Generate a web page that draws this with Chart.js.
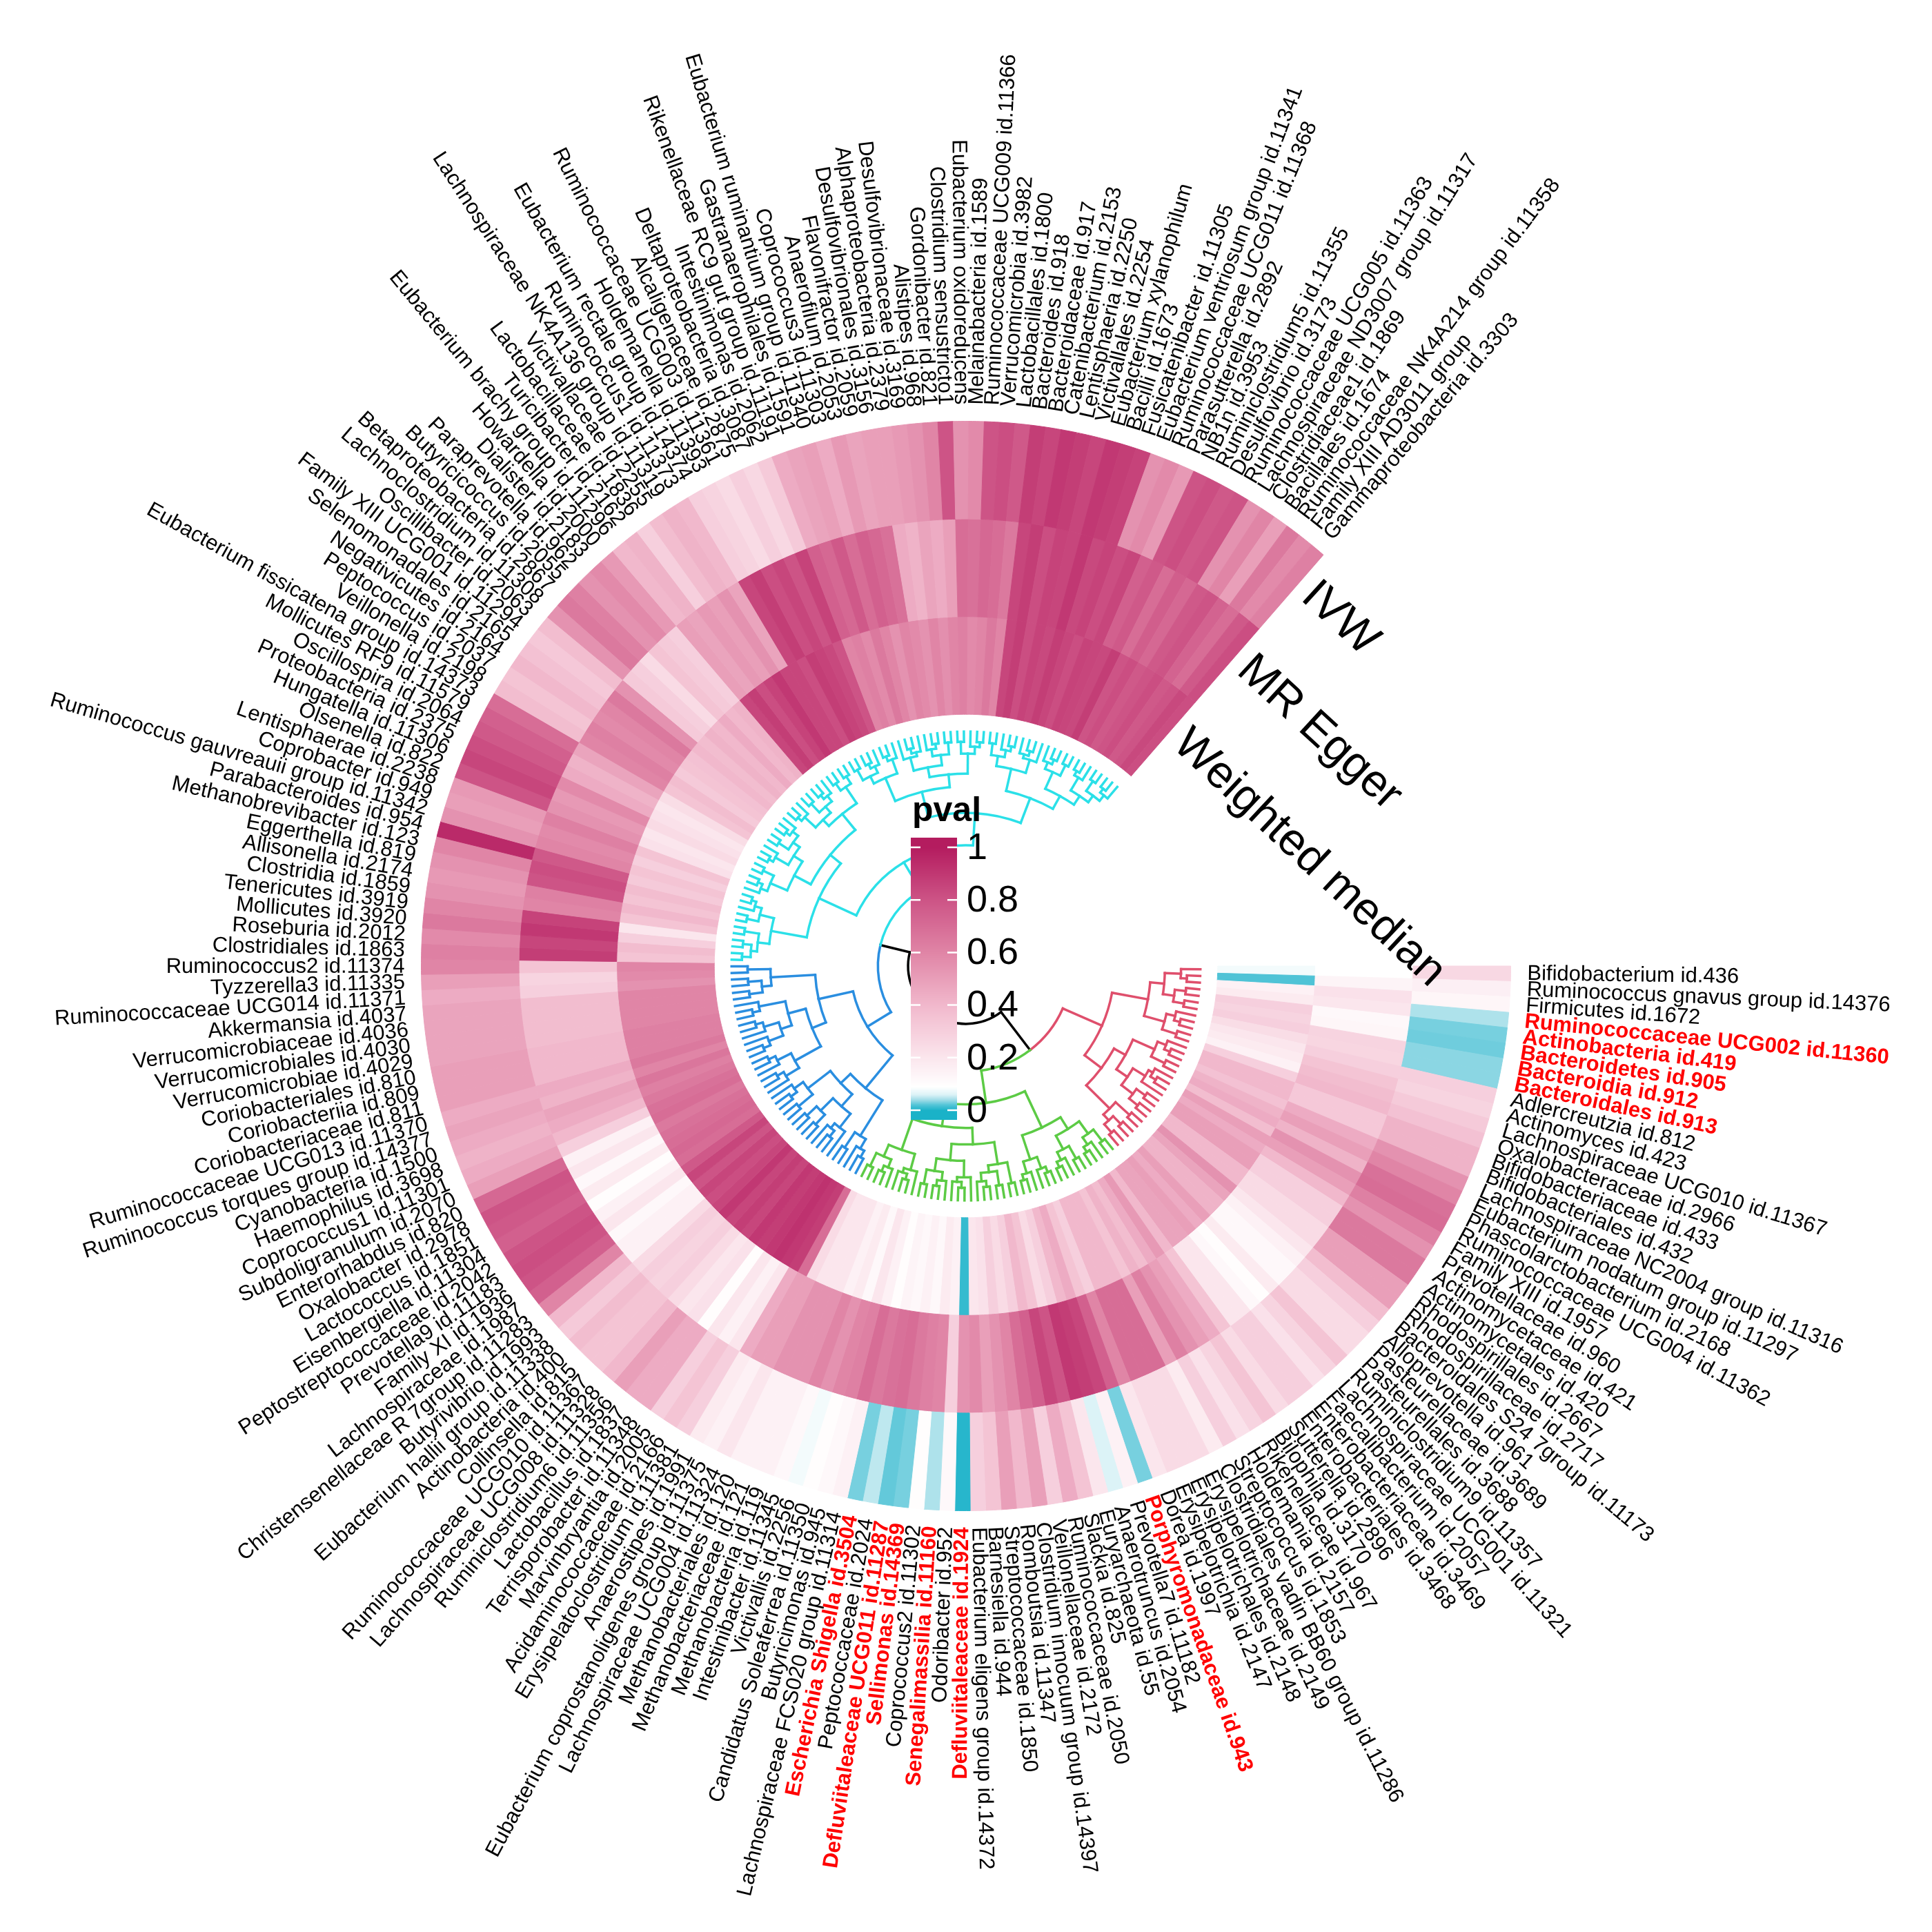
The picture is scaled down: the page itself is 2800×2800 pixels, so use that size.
<!DOCTYPE html>
<html>
<head>
<meta charset="utf-8">
<script src="https://cdn.jsdelivr.net/npm/chart.js@4.4.1/dist/chart.umd.min.js"></script>
<style>
  html, body { margin: 0; padding: 0; background: #fff; }
  canvas { display: block; }
</style>
</head>
<body>
<canvas id="fanChart" width="2800" height="2800"></canvas>
<script>
// taxa in clockwise order, starting at 3 o'clock
const taxa = [
  'Bifidobacterium id.436', 'Ruminococcus gnavus group id.14376', 'Firmicutes id.1672',
  'Ruminococcaceae UCG002 id.11360', 'Actinobacteria id.419', 'Bacteroidetes id.905',
  'Bacteroidia id.912', 'Bacteroidales id.913', 'Adlercreutzia id.812', 'Actinomyces id.423',
  'Lachnospiraceae UCG010 id.11367', 'Oxalobacteraceae id.2966', 'Bifidobacteriaceae id.433',
  'Bifidobacteriales id.432', 'Lachnospiraceae NC2004 group id.11316', 'Eubacterium nodatum group id.11297',
  'Phascolarctobacterium id.2168', 'Ruminococcaceae UCG004 id.11362', 'Family XIII id.1957',
  'Prevotellaceae id.960', 'Actinomycetaceae id.421', 'Actinomycetales id.420',
  'Rhodospirillales id.2667', 'Rhodospirillaceae id.2717', 'Bacteroidales S24 7group id.11173',
  'Alloprevotella id.961', 'Pasteurellaceae id.3689', 'Pasteurellales id.3688',
  'Ruminiclostridium9 id.11357', 'Lachnospiraceae UCG001 id.11321', 'Faecalibacterium id.2057',
  'Enterobacteriaceae id.3469', 'Enterobacteriales id.3468', 'Sutterella id.2896',
  'Bilophila id.3170', 'Rikenellaceae id.967', 'Holdemania id.2157', 'Streptococcus id.1853',
  'Clostridiales vadin BB60 group id.11286', 'Erysipelotrichaceae id.2149', 'Erysipelotrichales id.2148',
  'Erysipelotrichia id.2147', 'Dorea id.1997', 'Porphyromonadaceae id.943', 'Prevotella7 id.11182',
  'Anaerotruncus id.2054', 'Euryarchaeota id.55', 'Slackia id.825', 'Ruminococcaceae id.2050',
  'Veillonellaceae id.2172', 'Clostridium innocuum group id.14397', 'Romboutsia id.11347',
  'Streptococcaceae id.1850', 'Barnesiella id.944', 'Eubacterium eligens group id.14372',
  'Defluviitaleaceae id.1924', 'Odoribacter id.952', 'Senegalimassilia id.11160',
  'Coprococcus2 id.11302', 'Sellimonas id.14369', 'Defluviitaleaceae UCG011 id.11287',
  'Peptococcaceae id.2024', 'Escherichia Shigella id.3504', 'Lachnospiraceae FCS020 group id.11314',
  'Butyricimonas id.945', 'Candidatus Soleaferrea id.11350', 'Victivallis id.2256',
  'Intestinibacter id.11345', 'Methanobacteria id.119', 'Methanobacteriaceae id.121',
  'Methanobacteriales id.120', 'Lachnospiraceae UCG004 id.11324',
  'Eubacterium coprostanoligenes group id.11375', 'Anaerostipes id.1991',
  'Erysipelatoclostridium id.11381', 'Acidaminococcaceae id.2166', 'Marvinbryantia id.2005',
  'Terrisporobacter id.11348', 'Lactobacillus id.1837', 'Ruminiclostridium6 id.11356',
  'Lachnospiraceae UCG008 id.11328', 'Ruminococcaceae UCG010 id.11367', 'Collinsella id.815',
  'Actinobacteria id.400', 'Eubacterium hallii group id.11338', 'Butyrivibrio id.1993',
  'Christensenellaceae R 7group id.11283', 'Lachnospiraceae id.1987', 'Family XI id.1936',
  'Prevotella9 id.11183', 'Peptostreptococcaceae id.2042', 'Eisenbergiella id.11304',
  'Lactococcus id.1851', 'Oxalobacter id.2978', 'Enterorhabdus id.820', 'Subdoligranulum id.2070',
  'Coprococcus1 id.11301', 'Haemophilus id.3698', 'Cyanobacteria id.1500',
  'Ruminococcus torques group id.14377', 'Ruminococcaceae UCG013 id.11370', 'Coriobacteriaceae id.811',
  'Coriobacteriia id.809', 'Coriobacteriales id.810', 'Verrucomicrobiae id.4029',
  'Verrucomicrobiales id.4030', 'Verrucomicrobiaceae id.4036', 'Akkermansia id.4037',
  'Ruminococcaceae UCG014 id.11371', 'Tyzzerella3 id.11335', 'Ruminococcus2 id.11374',
  'Clostridiales id.1863', 'Roseburia id.2012', 'Mollicutes id.3920', 'Tenericutes id.3919',
  'Clostridia id.1859', 'Allisonella id.2174', 'Eggerthella id.819', 'Methanobrevibacter id.123',
  'Parabacteroides id.954', 'Ruminococcus gauvreauii group id.11342', 'Coprobacter id.949',
  'Lentisphaerae id.2238', 'Olsenella id.822', 'Hungatella id.11306', 'Proteobacteria id.2375',
  'Oscillospira id.2064', 'Mollicutes RF9 id.11579', 'Eubacterium fissicatena group id.14373',
  'Veillonella id.2198', 'Peptococcus id.2037', 'Negativicutes id.2164', 'Selenomonadales id.2165',
  'Family XIII UCG001 id.11294', 'Oscillibacter id.2063', 'Lachnoclostridium id.11308',
  'Betaproteobacteria id.2867', 'Butyricicoccus id.2055', 'Paraprevotella id.962',
  'Dialister id.2183', 'Howardella id.2000', 'Eubacterium brachy group id.11296',
  'Turicibacter id.2162', 'Lactobacillaceae id.1836', 'Victivallaceae id.2255',
  'Lachnospiraceae NK4A136 group id.11319', 'Ruminococcus1 id.11373', 'Eubacterium rectale group id.14374',
  'Holdemanella id.11393', 'Ruminococcaceae UCG003 id.11361', 'Alcaligenaceae id.2875',
  'Deltaproteobacteria id.3087', 'Intestinimonas id.2062', 'Rikenellaceae RC9 gut group id.11191',
  'Gastranaerophilales id.1591', 'Eubacterium ruminantium group id.11340', 'Coprococcus3 id.11303',
  'Anaerofilum id.2053', 'Flavonifractor id.2059', 'Desulfovibrionales id.3156',
  'Alphaproteobacteria id.2379', 'Desulfovibrionaceae id.3169', 'Alistipes id.968',
  'Gordonibacter id.821', 'Clostridium sensustricto1', 'Eubacterium oxidoreducens',
  'Melainabacteria id.1589', 'Ruminococcaceae UCG009 id.11366', 'Verrucomicrobia id.3982',
  'Lactobacillales id.1800', 'Bacteroides id.918', 'Bacteroidaceae id.917', 'Catenibacterium id.2153',
  'Lentisphaeria id.2250', 'Victivallales id.2254', 'Eubacterium xylanophilum', 'Bacilli id.1673',
  'Fusicatenibacter id.11305', 'Eubacterium ventriosum group id.11341', 'Ruminococcaceae UCG011 id.11368',
  'Parasutterella id.2892', 'NB1n id.3953', 'Ruminiclostridium5 id.11355', 'Desulfovibrio id.3173',
  'Ruminococcaceae UCG005 id.11363', 'Lachnospiraceae ND3007 group id.11317', 'Clostridiaceae1 id.1869',
  'Bacillales id.1674', 'Ruminococcaceae NK4A214 group id.11358', 'Family XIII AD3011 group',
  'Gammaproteobacteria id.3303'
];

// p values, outer ring
const pvalIVW = [
  0.26, 0.16, 0.13, 0.045, 0.03, 0.028, 0.035, 0.035, 0.30, 0.28,
  0.32, 0.36, 0.42, 0.42, 0.55, 0.60, 0.68, 0.70, 0.62, 0.55,
  0.65, 0.65, 0.50, 0.50, 0.38, 0.30, 0.25, 0.25, 0.35, 0.28,
  0.22, 0.30, 0.30, 0.25, 0.35, 0.28, 0.22, 0.30, 0.18, 0.25,
  0.25, 0.25, 0.20, 0.03, 0.15, 0.06, 0.20, 0.35, 0.45, 0.30,
  0.50, 0.40, 0.50, 0.35, 0.30, 0.005, 0.12, 0.045, 0.10, 0.03,
  0.025, 0.05, 0.03, 0.15, 0.12, 0.10, 0.08, 0.12, 0.15, 0.15,
  0.15, 0.20, 0.15, 0.18, 0.30, 0.35, 0.30, 0.45, 0.45, 0.50,
  0.40, 0.35, 0.35, 0.38, 0.32, 0.40, 0.60, 0.75, 0.80, 0.82,
  0.80, 0.75, 0.78, 0.80, 0.72, 0.50, 0.45, 0.42, 0.45, 0.48,
  0.45, 0.50, 0.50, 0.50, 0.48, 0.48, 0.48, 0.48, 0.45, 0.50,
  0.60, 0.62, 0.58, 0.65, 0.60, 0.55, 0.52, 0.55, 0.60, 0.95,
  0.55, 0.50, 0.52, 0.80, 0.85, 0.82, 0.78, 0.75, 0.70, 0.38,
  0.35, 0.40, 0.36, 0.33, 0.38, 0.55, 0.65, 0.62, 0.55, 0.58,
  0.52, 0.40, 0.42, 0.30, 0.38, 0.42, 0.40, 0.30, 0.28, 0.25,
  0.30, 0.26, 0.32, 0.45, 0.48, 0.50, 0.45, 0.52, 0.48, 0.50,
  0.50, 0.52, 0.55, 0.60, 0.80, 0.55, 0.58, 0.80, 0.82, 0.78,
  0.88, 0.85, 0.90, 0.88, 0.85, 0.90, 0.88, 0.86, 0.55, 0.58,
  0.52, 0.80, 0.82, 0.78, 0.80, 0.55, 0.60, 0.50, 0.65, 0.58, 0.62
];

// middle ring
const pvalEgger = [
  0.09, 0.14, 0.22, 0.20, 0.12, 0.13, 0.28, 0.27, 0.30, 0.35,
  0.38, 0.40, 0.33, 0.33, 0.45, 0.50, 0.42, 0.55, 0.50, 0.40,
  0.30, 0.30, 0.25, 0.25, 0.20, 0.15, 0.12, 0.12, 0.18, 0.10,
  0.12, 0.20, 0.20, 0.35, 0.45, 0.50, 0.55, 0.62, 0.50, 0.70,
  0.70, 0.70, 0.60, 0.75, 0.85, 0.88, 0.90, 0.80, 0.85, 0.75,
  0.70, 0.60, 0.55, 0.50, 0.58, 0.55, 0.30, 0.60, 0.62, 0.65,
  0.70, 0.68, 0.65, 0.70, 0.62, 0.60, 0.55, 0.60, 0.55, 0.55,
  0.55, 0.50, 0.50, 0.45, 0.20, 0.15, 0.20, 0.10, 0.22, 0.20,
  0.25, 0.30, 0.28, 0.30, 0.25, 0.15, 0.15, 0.12, 0.20, 0.15,
  0.10, 0.18, 0.12, 0.20, 0.15, 0.30, 0.40, 0.45, 0.48, 0.42,
  0.45, 0.40, 0.40, 0.40, 0.38, 0.38, 0.38, 0.38, 0.30, 0.28,
  0.35, 0.88, 0.85, 0.90, 0.86, 0.60, 0.62, 0.80, 0.82, 0.78,
  0.60, 0.58, 0.62, 0.55, 0.52, 0.58, 0.45, 0.42, 0.48, 0.60,
  0.62, 0.58, 0.60, 0.65, 0.55, 0.32, 0.30, 0.25, 0.35, 0.32,
  0.30, 0.50, 0.48, 0.52, 0.50, 0.55, 0.48, 0.85, 0.88, 0.82,
  0.85, 0.80, 0.86, 0.75, 0.72, 0.78, 0.70, 0.75, 0.72, 0.68,
  0.45, 0.42, 0.48, 0.45, 0.50, 0.70, 0.68, 0.72, 0.70, 0.65,
  0.85, 0.88, 0.82, 0.86, 0.85, 0.90, 0.84, 0.86, 0.82, 0.85,
  0.75, 0.78, 0.70, 0.76, 0.72, 0.78, 0.80, 0.74, 0.70, 0.78, 0.82
];

// inner ring
const pvalWM = [
  0.08, 0.02, 0.15, 0.18, 0.30, 0.28, 0.30, 0.24, 0.20, 0.18,
  0.15, 0.30, 0.40, 0.40, 0.36, 0.42, 0.45, 0.38, 0.50, 0.45,
  0.50, 0.50, 0.40, 0.40, 0.55, 0.48, 0.42, 0.42, 0.50, 0.45,
  0.50, 0.48, 0.48, 0.40, 0.52, 0.45, 0.38, 0.42, 0.35, 0.40,
  0.40, 0.40, 0.30, 0.35, 0.45, 0.40, 0.30, 0.25, 0.35, 0.40,
  0.30, 0.25, 0.30, 0.22, 0.20, 0.01, 0.15, 0.18, 0.12, 0.15,
  0.12, 0.14, 0.10, 0.15, 0.20, 0.12, 0.18, 0.15, 0.20, 0.20,
  0.20, 0.25, 0.70, 0.88, 0.90, 0.92, 0.90, 0.88, 0.90, 0.85,
  0.88, 0.85, 0.90, 0.85, 0.82, 0.85, 0.80, 0.85, 0.78, 0.70,
  0.72, 0.70, 0.68, 0.65, 0.70, 0.68, 0.65, 0.62, 0.66, 0.60,
  0.65, 0.62, 0.62, 0.62, 0.60, 0.60, 0.60, 0.60, 0.55, 0.58,
  0.60, 0.35, 0.38, 0.30, 0.20, 0.35, 0.40, 0.35, 0.38, 0.32,
  0.35, 0.30, 0.35, 0.22, 0.20, 0.25, 0.22, 0.20, 0.24, 0.35,
  0.38, 0.32, 0.35, 0.36, 0.40, 0.38, 0.42, 0.40, 0.45, 0.40,
  0.42, 0.85, 0.88, 0.82, 0.86, 0.90, 0.85, 0.85, 0.82, 0.88,
  0.86, 0.84, 0.80, 0.60, 0.62, 0.58, 0.65, 0.60, 0.55, 0.60,
  0.58, 0.55, 0.60, 0.56, 0.60, 0.62, 0.58, 0.60, 0.65, 0.60,
  0.85, 0.88, 0.82, 0.86, 0.84, 0.88, 0.85, 0.82, 0.86, 0.85,
  0.84, 0.88, 0.80, 0.82, 0.78, 0.80, 0.82, 0.78, 0.80, 0.84, 0.82
];

const methods = ['IVW', 'MR Egger', 'Weighted median'];

// taxa printed in bold red
const highlighted = [
  'Ruminococcaceae UCG002 id.11360', 'Actinobacteria id.419', 'Bacteroidetes id.905',
  'Bacteroidia id.912', 'Bacteroidales id.913', 'Porphyromonadaceae id.943',
  'Defluviitaleaceae id.1924', 'Senegalimassilia id.11160', 'Sellimonas id.14369',
  'Defluviitaleaceae UCG011 id.11287', 'Escherichia Shigella id.3504'
];

// last leaf (1-based) of each tree cluster, and its colour
const clusterEnds = [31, 72, 111, 191];
const clusterColors = ['#df4f6c', '#5ccb45', '#2a8ee0', '#2be0e8'];

const legendTicks = [0, 0.2, 0.4, 0.6, 0.8, 1];
const colorStops = [0, 0.02, 0.04, 0.06, 0.09, 0.2, 0.4, 0.6, 0.8, 1];
const stopColors = ['#1ab2c8', '#4fc3d6', '#9fdce7', '#dcf3f7', '#ffffff',
                    '#fbe6ed', '#f1b8cc', '#e085a6', '#cd5486', '#b41c5f'];

const openDegrees = 49;   // empty wedge where the method names sit

function hexToRgb(h) {
  return [parseInt(h.slice(1, 3), 16), parseInt(h.slice(3, 5), 16), parseInt(h.slice(5, 7), 16)];
}
const stopRgb = stopColors.map(hexToRgb);

function pColor(p) {
  p = Math.max(0, Math.min(1, p));
  let i = 0;
  while (i < colorStops.length - 2 && p > colorStops[i + 1]) i++;
  const t = (p - colorStops[i]) / (colorStops[i + 1] - colorStops[i]);
  const a = stopRgb[i], b = stopRgb[i + 1];
  const c = a.map((v, k) => Math.round(v + (b[k] - v) * t));
  return 'rgb(' + c.join(',') + ')';
}

const n = taxa.length;
const gapUnits = openDegrees / ((360 - openDegrees) / n);

function ringDataset(values, label) {
  const colors = values.map(pColor).concat(['rgba(0,0,0,0)']);
  return {
    label: label,
    data: values.map(() => 1).concat([gapUnits]),
    backgroundColor: colors,
    borderColor: colors,
    borderWidth: 1,
    hoverOffset: 0
  };
}

// dendrogram helpers
const splitRatios = [0.5, 0.38, 0.62, 0.45, 0.3, 0.56, 0.7, 0.42];

function buildClade(lo, hi, depth) {
  if (lo === hi) return { leaf: lo, lo: lo, hi: hi };
  const size = hi - lo + 1;
  let k = Math.round(size * splitRatios[(depth + lo) % splitRatios.length]);
  k = Math.min(Math.max(k, 1), size - 1);
  return { lo: lo, hi: hi, children: [buildClade(lo, lo + k - 1, depth + 1), buildClade(lo + k, hi, depth + 1)] };
}

function placeClade(node, total, r0, tipR, leafAngle, color) {
  node.color = color;
  if (node.children === undefined) {
    node.r = tipR;
    node.a = leafAngle[node.leaf];
    return;
  }
  const size = node.hi - node.lo + 1;
  node.r = tipR - (tipR - r0) * Math.pow((size - 1) / Math.max(total - 1, 1), 0.55);
  node.children.forEach(c => placeClade(c, total, r0, tipR, leafAngle, color));
  node.a = (node.children[0].a + node.children[1].a) / 2;
}

function drawClade(ctx, cx, cy, node) {
  if (!node.children) return;
  node.children.forEach(c => {
    ctx.strokeStyle = c.color;
    ctx.beginPath();
    ctx.arc(cx, cy, node.r, Math.min(node.a, c.a), Math.max(node.a, c.a));
    ctx.stroke();
    ctx.beginPath();
    ctx.moveTo(cx + node.r * Math.cos(c.a), cy + node.r * Math.sin(c.a));
    ctx.lineTo(cx + c.r * Math.cos(c.a), cy + c.r * Math.sin(c.a));
    ctx.stroke();
    drawClade(ctx, cx, cy, c);
  });
}

const decorations = {
  id: 'decorations',
  afterDatasetsDraw(chart) {
    const ctx = chart.ctx;
    const outer = chart.getDatasetMeta(0).data;
    const inner = chart.getDatasetMeta(2).data;
    const cx = outer[0].x, cy = outer[0].y;
    const R = inner[0].innerRadius;

    // tree
    const leafAngle = {};
    inner.slice(0, n).forEach((el, i) => { leafAngle[i + 1] = (el.startAngle + el.endAngle) / 2; });
    const tipR = R - 25;
    const rootRadii = [0.59, 0.55, 0.46, 0.48];
    const clades = [];
    let start = 1;
    clusterEnds.forEach((end, g) => {
      const c = buildClade(start, end, g);
      placeClade(c, end - start + 1, R * rootRadii[g], tipR, leafAngle, clusterColors[g]);
      clades.push(c);
      start = end + 1;
    });
    const joinB = { r: R * 0.42, color: '#000', children: [clades[0], clades[1]] };
    const joinA = { r: R * 0.35, color: '#000', children: [clades[2], clades[3]] };
    joinB.a = (clades[0].a + clades[1].a) / 2;
    joinA.a = (clades[2].a + clades[3].a) / 2;
    const root = { r: R * 0.23, children: [joinB, joinA] };
    root.a = (joinA.a + joinB.a) / 2;
    ctx.save();
    ctx.lineWidth = 3.5;
    ctx.lineCap = 'square';
    drawClade(ctx, cx, cy, root);
    ctx.restore();

    // taxon labels
    ctx.save();
    ctx.textBaseline = 'middle';
    outer.slice(0, n).forEach((el, i) => {
      const a = (el.startAngle + el.endAngle) / 2;
      const r = el.outerRadius + 24;
      const name = taxa[i];
      const red = highlighted.includes(name);
      ctx.font = (red ? 'bold ' : '') + '31px "Liberation Sans", Arial, sans-serif';
      ctx.fillStyle = red ? '#ff0000' : '#000';
      const flip = Math.cos(a) < 0;
      ctx.save();
      ctx.translate(cx, cy);
      ctx.rotate(flip ? a + Math.PI : a);
      ctx.textAlign = flip ? 'right' : 'left';
      ctx.fillText(name, flip ? -r : r, 0);
      ctx.restore();
    });
    ctx.restore();

    // method names in the open wedge
    ctx.save();
    ctx.font = '66px "Liberation Sans", Arial, sans-serif';
    ctx.fillStyle = '#000';
    ctx.textAlign = 'left';
    ctx.textBaseline = 'alphabetic';
    methods.forEach((m, d) => {
      const el = chart.getDatasetMeta(d).data[n - 1];
      const r = (el.innerRadius + el.outerRadius) / 2;
      const a = el.endAngle + 16 / r;
      ctx.save();
      ctx.translate(cx + r * Math.cos(a), cy + r * Math.sin(a));
      ctx.rotate(a + Math.PI / 2);
      ctx.fillText(m, 0, 0);
      ctx.restore();
    });
    ctx.restore();

    // colour legend
    const barX = cx - 80, barW = 67;
    const y0 = cy + 209, y1 = cy - 172;   // value 0 and value 1
    const yOf = v => y0 + (y1 - y0) * v;
    ctx.save();
    for (let y = Math.round(yOf(1.037)); y < Math.round(yOf(-0.037)); y++) {
      const v = (y - y0) / (y1 - y0);
      ctx.fillStyle = pColor(v);
      ctx.fillRect(barX, y, barW, 1);
    }
    ctx.strokeStyle = '#fff';
    ctx.lineWidth = 2.5;
    ctx.font = '54px "Liberation Sans", Arial, sans-serif';
    ctx.fillStyle = '#000';
    ctx.textAlign = 'left';
    ctx.textBaseline = 'middle';
    legendTicks.forEach(t => {
      const y = yOf(t);
      ctx.beginPath();
      ctx.moveTo(barX, y); ctx.lineTo(barX + 14, y);
      ctx.moveTo(barX + barW - 14, y); ctx.lineTo(barX + barW, y);
      ctx.stroke();
      ctx.fillText(String(t), barX + barW + 14, y + 2);
    });
    ctx.font = 'bold 50px "Liberation Sans", Arial, sans-serif';
    ctx.textBaseline = 'alphabetic';
    ctx.fillText('pval', barX + 2, yOf(1.037) - 24);
    ctx.restore();
  }
};

new Chart(document.getElementById('fanChart').getContext('2d'), {
  type: 'doughnut',
  data: {
    labels: taxa.concat(['']),
    datasets: [ringDataset(pvalIVW, 'IVW'), ringDataset(pvalEgger, 'MR Egger'), ringDataset(pvalWM, 'Weighted median')]
  },
  options: {
    responsive: false,
    devicePixelRatio: 1,
    animation: false,
    rotation: 90,
    circumference: 360,
    cutout: '46.2%',
    layout: { padding: 610 },
    events: [],
    plugins: {
      legend: { display: false },
      tooltip: { enabled: false }
    }
  },
  plugins: [decorations]
});
</script>
</body>
</html>
